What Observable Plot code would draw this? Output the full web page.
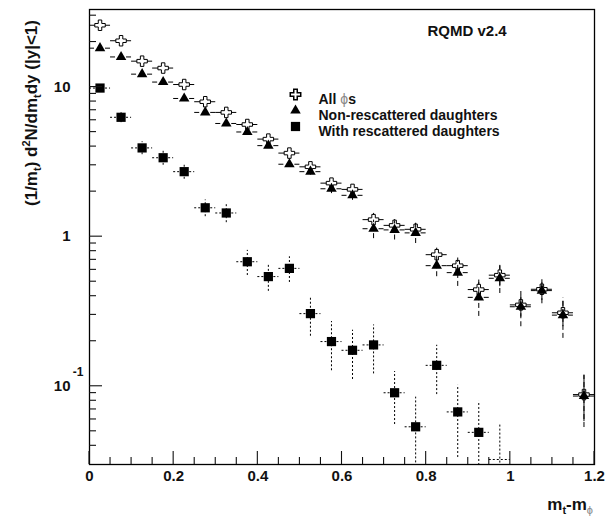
<!DOCTYPE html>
<html><head><meta charset="utf-8">
<script src="https://cdn.jsdelivr.net/npm/d3@7"></script>
<script src="https://cdn.jsdelivr.net/npm/@observablehq/plot@0.6"></script>
<style>body{margin:0;background:#fff}</style>
</head><body><div id="chart"></div>
<script>
// ---- data ----
const binCenters = [0.025,0.075,0.125,0.175,0.225,0.275,0.325,0.375,0.425,0.475,0.525,0.575,0.625,0.675,0.725,0.775,0.825,0.875,0.925,0.975,1.025,1.075,1.125,1.175];
const binHalfWidth = 0.025;
const allPhi    = [25.9,20.4,14.9,13.4,10.4,7.98,6.77,5.62,4.49,3.62,2.93,2.28,2.07,1.30,1.19,1.12,0.758,0.64,0.443,0.553,0.35,0.445,0.31,0.088];
const allPhiErr = [0.5,0.45,0.4,0.35,0.3,0.25,0.22,0.2,0.18,0.15,0.13,0.12,0.12,0.13,0.11,0.11,0.08,0.08,0.07,0.09,0.06,0.07,0.06,0.03];
const nonResc    = [18.2,15.9,12.2,10.8,8.39,6.77,5.71,5.01,4.06,3.05,2.72,2.09,1.89,1.13,1.11,1.06,0.64,0.575,0.393,0.527,0.34,0.436,0.299,0.086];
const nonRescErr = [0.45,0.4,0.35,0.3,0.27,0.23,0.2,0.18,0.17,0.15,0.14,0.15,0.14,0.16,0.16,0.16,0.1,0.11,0.1,0.11,0.09,0.08,0.09,0.033];
const withResc    = [9.85,6.28,3.92,3.37,2.72,1.56,1.44,0.68,0.541,0.614,0.306,0.199,0.174,0.189,0.0905,0.0536,0.138,0.0674,0.0492,0.025];
const withRescErr = [0.6,0.5,0.39,0.37,0.3,0.2,0.2,0.13,0.11,0.12,0.09,0.072,0.063,0.068,0.035,0.031,0.05,0.034,0.03,0.031];

const xMajorTicks = [0,0.2,0.4,0.6,0.8,1,1.2];
const xTickLabels = ["0","0.2","0.4","0.6","0.8","1","1.2"];
const xMinorTicks = [0.05,0.1,0.15,0.25,0.3,0.35,0.45,0.5,0.55,0.65,0.7,0.75,0.85,0.9,0.95,1.05,1.1,1.15];
const yMajorTicks = [0.1,1,10];
const yTickBase = ["10","1","10"];
const yTickExp  = ["-1","",""];
const yMinorTicks = [0.04,0.05,0.06,0.07,0.08,0.09,0.2,0.3,0.4,0.5,0.6,0.7,0.8,0.9,2,3,4,5,6,7,8,9,20,30];
const yDomain = [0.03, 33];
const xDomain = [0, 1.2];
const legendLabels = ["All ϕs","Non-rescattered daughters","With rescattered daughters"];
const modelLabel = "RQMD v2.4";

// ---- layout ----
const W = 607, H = 518, mL = 89, mR = 13, mT = 9, mB = 54;
const majorLen = 13, minorLen = 7; // inward tick lengths in px

// ---- build tables ----
const yMin = yDomain[0];
function table(vals, errs) {
  return vals.map((v,i) => ({
    x: binCenters[i], y: v,
    lo: Math.max(v - errs[i], 1e-4), hi: v + errs[i],
    x1: binCenters[i] - binHalfWidth, x2: binCenters[i] + binHalfWidth,
    yh: Math.max(v, yMin * 1.08)
  }));
}
const tAll = table(allPhi, allPhiErr);
const tNon = table(nonResc, nonRescErr);
const tWith = table(withResc, withRescErr);
const visible = d => d.y >= yMin;

const font = '"Liberation Sans", Arial, Helvetica, sans-serif';
function errMarks(t, dash) {
  return [
    Plot.ruleX(t, {x: "x", y1: "lo", y2: "hi", stroke: "#000", strokeWidth: 1, strokeDasharray: dash, clip: true}),
    Plot.ruleY(t, {y: "yh", x1: "x1", x2: "x2", stroke: "#000", strokeWidth: 1, strokeDasharray: dash, clip: true})
  ];
}
const legendFont = {fontSize: 14, fontWeight: "bold", letterSpacing: "0.8px"};

const chart = Plot.plot({
  width: W, height: H,
  marginLeft: mL, marginRight: mR, marginTop: mT, marginBottom: mB,
  style: {fontFamily: font, fontSize: "15px", fontWeight: "bold", color: "#111", background: "#fff", overflow: "visible"},
  x: {domain: xDomain, label: null, axis: null},
  y: {type: "log", domain: yDomain, label: null, axis: null},
  marks: [
    Plot.frame({stroke: "#000", strokeWidth: 1.3, fill: "none"}),
    // tick labels
    Plot.text(xMajorTicks, {x: d => d, frameAnchor: "bottom", dy: 16, textAnchor: "middle",
      text: (d,i) => xTickLabels[i], fontSize: 15, fontWeight: "bold"}),
    Plot.text(yMajorTicks, {y: d => d, frameAnchor: "left", dx: -19, textAnchor: "end",
      text: (d,i) => yTickBase[i], fontSize: 15, fontWeight: "bold"}),
    Plot.text(yMajorTicks, {y: d => d, frameAnchor: "left", dx: -6, dy: -14, textAnchor: "end",
      text: (d,i) => yTickExp[i], fontSize: 12, fontWeight: "bold"}),

    ...errMarks(tAll, null),
    Plot.dot(tAll, {x: "x", y: "y", symbol: "cross", r: 4.4, fill: "#fff", stroke: "#000", strokeWidth: 1, clip: true}),
    ...errMarks(tNon, "5,3"),
    Plot.dot(tNon, {x: "x", y: "y", symbol: "triangle", r: 3.9, fill: "#000", stroke: "none", clip: true}),
    ...errMarks(tWith, "2,2"),
    Plot.dot(tWith.filter(visible), {x: "x", y: "y", symbol: "square", r: 5.2, fill: "#000", stroke: "none", clip: true}),

    // legend
    Plot.dot([legendLabels[0]], {frameAnchor: "top-left", dx: 206, dy: 85, symbol: "cross", r: 4.4, fill: "#fff", stroke: "#000"}),
    Plot.dot([legendLabels[1]], {frameAnchor: "top-left", dx: 206, dy: 101, symbol: "triangle", r: 3.9, fill: "#000"}),
    Plot.dot([legendLabels[2]], {frameAnchor: "top-left", dx: 206, dy: 117, symbol: "square", r: 5.2, fill: "#000"}),
    Plot.text([legendLabels[0]], {frameAnchor: "top-left", dx: 229, dy: 85, textAnchor: "start", text: d => d, ...legendFont}),
    Plot.text([legendLabels[1]], {frameAnchor: "top-left", dx: 229, dy: 101, textAnchor: "start", text: d => d, ...legendFont}),
    Plot.text([legendLabels[2]], {frameAnchor: "top-left", dx: 229, dy: 117, textAnchor: "start", text: d => d, ...legendFont}),
    Plot.text([modelLabel], {frameAnchor: "top-left", dx: 338, dy: 16, textAnchor: "start", text: d => d, fontSize: 15, fontWeight: "bold"})
  ]
});
document.getElementById("chart").appendChild(chart);

const svg = d3.select(chart);

// inward ticks, positioned with the plot's own scales
const sx = chart.scale("x"), sy = chart.scale("y");
const x0 = sx.apply(xDomain[0]), y0 = sy.apply(yDomain[0]);
const gt = svg.append("g").attr("stroke", "#111").attr("stroke-width", 1.1);
function addXTicks(ticks, len) {
  ticks.forEach(v => { const px = sx.apply(v);
    gt.append("line").attr("x1", px).attr("x2", px).attr("y1", y0).attr("y2", y0 - len); });
}
function addYTicks(ticks, len) {
  ticks.forEach(v => { const py = sy.apply(v);
    gt.append("line").attr("x1", x0).attr("x2", x0 + len).attr("y1", py).attr("y2", py); });
}
addXTicks(xMinorTicks, minorLen); addXTicks(xMajorTicks, majorLen);
addYTicks(yMinorTicks, minorLen); addYTicks(yMajorTicks, majorLen);

// gray phi in legend
svg.selectAll("text").filter(function(){ return this.textContent === legendLabels[0]; }).each(function(){
  const t = d3.select(this); t.text("");
  t.append("tspan").text("All ");
  t.append("tspan").attr("fill", "#888").attr("font-weight", "normal").text("ϕ");
  t.append("tspan").text("s");
});

function rich(sel, parts) {
  let prev = 0;
  parts.forEach(([txt, shift, size, fill, weight]) => {
    const ts = sel.append("tspan").attr("dy", shift - prev).text(txt);
    if (size) ts.attr("font-size", size);
    if (fill) ts.attr("fill", fill);
    if (weight) ts.attr("font-weight", weight);
    prev = shift;
  });
}
const yt = svg.append("text")
  .attr("transform", "translate(37,113) rotate(-90)")
  .attr("text-anchor", "middle")
  .attr("font-family", font).attr("font-size", 17).attr("font-weight", "bold").attr("fill", "#111");
rich(yt, [["(1/m",0],["t",4,11],[") d",0],["2",-7,11],["N/dm",0],["t",4,11],["dy (|y|<1)",0]]);

const xt = svg.append("text")
  .attr("x", 593).attr("y", 510)
  .attr("text-anchor", "end")
  .attr("font-family", font).attr("font-size", 17).attr("font-weight", "bold").attr("fill", "#111");
rich(xt, [["m",0],["t",4,11],["-m",0],["ϕ",4,11,"#888","normal"],["",0]]);
</script>
</body></html>
